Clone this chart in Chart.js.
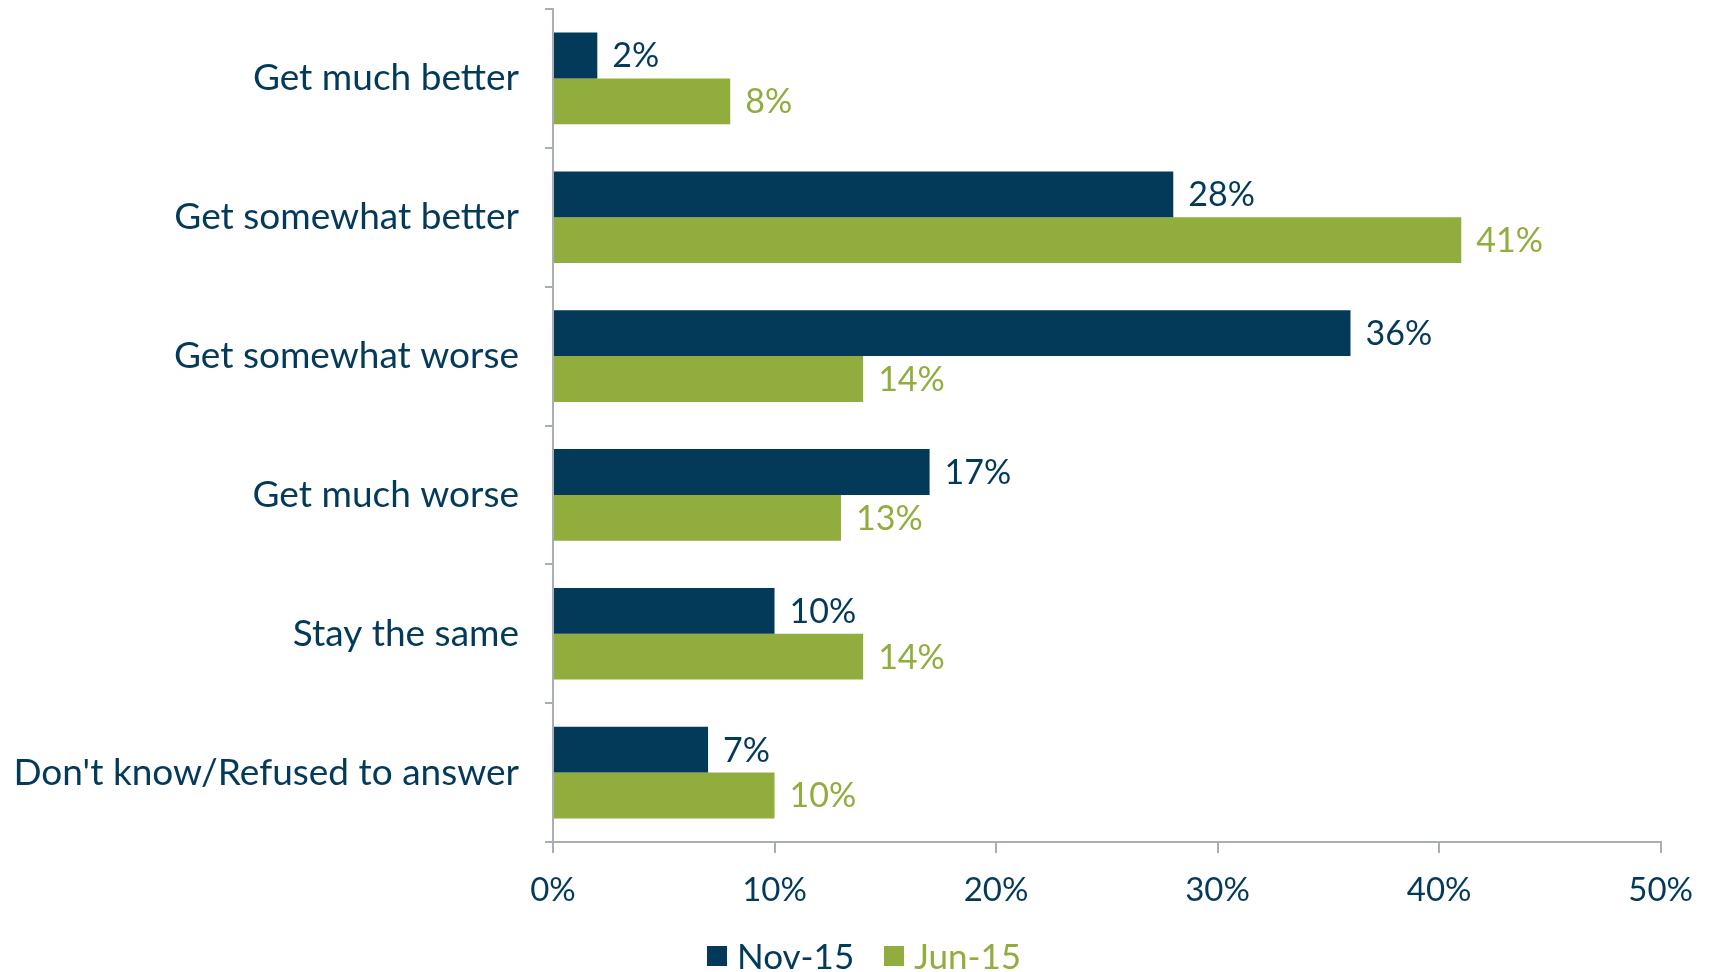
<!DOCTYPE html>
<html>
<head>
<meta charset="utf-8">
<script src="https://cdn.jsdelivr.net/npm/chart.js@4.4.1/dist/chart.umd.min.js"></script>
<style>
  html, body { margin: 0; padding: 0; background: #fff; }
  #wrap { width: 1711px; height: 972px; position: relative; }
  #legend {
    position: absolute; left: 707px; top: 934px;
    display: flex; align-items: center;
    font-family: Lato, "Open Sans", sans-serif; font-size: 35px; line-height: 42px;
  }
  #legend .item { display: flex; align-items: center; margin-right: 30px; }
  #legend .box { width: 20px; height: 20px; margin-right: 10px; margin-top: 2px; }
</style>
</head>
<body>
<div id="wrap">
  <canvas id="outlookChart"></canvas>
  <div id="legend"></div>
</div>
<script>
// data
const categories = ['Get much better', 'Get somewhat better', 'Get somewhat worse', 'Get much worse', 'Stay the same', "Don't know/Refused to answer"];
const nov15 = [2, 28, 36, 17, 10, 7];
const jun15 = [8, 41, 14, 13, 14, 10];
const xTicks = [0, 10, 20, 30, 40, 50];

const NAVY = '#033a5a';
const GREEN = '#90ad3e';
const AXIS = '#a9adb5';
const FONT = 'Lato, "Open Sans", sans-serif';

// value labels at the end of each bar, same colour as its series
const barLabels = {
    id: 'barLabels',
    afterDatasetsDraw(chart) {
        const ctx = chart.ctx;
        ctx.save();
        ctx.font = '34px ' + FONT;
        ctx.textBaseline = 'middle';
        ctx.textAlign = 'left';
        chart.data.datasets.forEach((ds, i) => {
            const meta = chart.getDatasetMeta(i);
            meta.data.forEach((bar, j) => {
                ctx.fillStyle = ds.backgroundColor;
                ctx.fillText(ds.data[j] + '%', bar.x + 15, bar.y + 1);
            });
        });
        ctx.restore();
    }
};

const chart = new Chart(document.getElementById('outlookChart'), {
    type: 'bar',
    data: {
        labels: categories,
        datasets: [
            { label: 'Nov-15', data: nov15, backgroundColor: NAVY },
            { label: 'Jun-15', data: jun15, backgroundColor: GREEN }
        ]
    },
    options: {
        indexAxis: 'y',
        responsive: true,
        maintainAspectRatio: false,
        animation: false,
        datasets: {
            bar: { categoryPercentage: 0.66, barPercentage: 1.0 }
        },
        layout: { padding: { top: 9, right: 40, left: 0, bottom: 0 } },
        scales: {
            x: {
                min: 0,
                max: 50,
                afterBuildTicks(axis) {
                    axis.ticks = xTicks.map(v => ({ value: v }));
                },
                afterFit(axis) { axis.height = 130; },
                border: { color: AXIS, width: 2 },
                grid: { drawOnChartArea: false, drawTicks: true, tickLength: 11, color: AXIS, lineWidth: 2 },
                ticks: {
                    color: NAVY,
                    padding: 18,
                    font: { family: FONT, size: 33 },
                    callback: v => v + '%'
                }
            },
            y: {
                afterFit(axis) {
                    axis.width = 553;
                    axis.paddingTop = 0;
                    axis.paddingBottom = 0;
                },
                border: { color: AXIS, width: 2 },
                grid: { offset: true, drawOnChartArea: false, drawTicks: true, tickLength: 8, color: AXIS, lineWidth: 2 },
                ticks: {
                    color: NAVY,
                    padding: 26,
                    font: { family: FONT, size: 37 }
                }
            }
        },
        plugins: {
            tooltip: { enabled: false },
            legend: { display: false }
        }
    },
    plugins: [barLabels]
});

// legend below the plot, text coloured like its series
const legendEl = document.getElementById('legend');
chart.data.datasets.forEach(ds => {
    const item = document.createElement('div');
    item.className = 'item';
    item.style.color = ds.backgroundColor;
    item.innerHTML = '<span class="box" style="background:' + ds.backgroundColor + '"></span><span>' + ds.label + '</span>';
    legendEl.appendChild(item);
});
</script>
</body>
</html>
